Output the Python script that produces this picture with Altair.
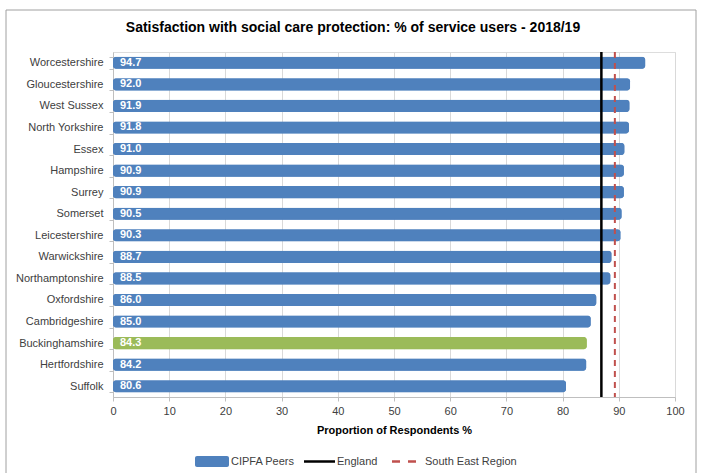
import altair as alt
import pandas as pd

regions = ["Worcestershire", "Gloucestershire", "West Sussex", "North Yorkshire", "Essex",
           "Hampshire", "Surrey", "Somerset", "Leicestershire", "Warwickshire",
           "Northamptonshire", "Oxfordshire", "Cambridgeshire", "Buckinghamshire",
           "Hertfordshire", "Suffolk"]
values = [94.7, 92.0, 91.9, 91.8, 91.0, 90.9, 90.9, 90.5, 90.3, 88.7, 88.5, 86.0, 85.0, 84.3, 84.2, 80.6]
groups = ["CIPFA Peers"] * 13 + ["Buckinghamshire"] + ["CIPFA Peers"] * 2
england_value = 86.9
south_east_value = 89.3
x_ticks = [0, 10, 20, 30, 40, 50, 60, 70, 80, 90, 100]
title_text = "Satisfaction with social care protection: % of service users - 2018/19"

FONT = "Liberation Sans"
BLUE = "#4F81BD"
GREEN = "#9BBB59"

df = pd.DataFrame({"region": regions, "value": values, "group": groups})
base = alt.Chart(df)

y_enc = alt.Y("region:N", sort=regions, title=None,
              scale=alt.Scale(paddingInner=0.44, paddingOuter=0.22),
              axis=alt.Axis(labelFont=FONT, labelFontSize=11, labelColor="#404040",
                            labelPadding=6, tickBand="extent", tickSize=4,
                            tickColor="#bfbfbf", domainColor="#bfbfbf", grid=False))

x_enc = alt.X("value:Q", scale=alt.Scale(domain=[0, 100], nice=False),
              title="Proportion of Respondents %",
              axis=alt.Axis(values=x_ticks, grid=True, gridColor="#d9d9d9",
                            labelFont=FONT, labelFontSize=11, labelColor="#404040",
                            labelPadding=4, labelFlush=False, tickSize=4,
                            tickColor="#bfbfbf", domainColor="#bfbfbf",
                            titleFont=FONT, titleFontSize=11,
                            titleFontWeight="bold", titleColor="#000000",
                            titlePadding=8))

color_scale = alt.Scale(domain=["CIPFA Peers", "Buckinghamshire"], range=[BLUE, GREEN])

bars = base.mark_bar(cornerRadius=3, strokeWidth=2).encode(
    x=x_enc, y=y_enc,
    color=alt.Color("group:N", scale=color_scale, legend=None),
    stroke=alt.Stroke("group:N", scale=color_scale, legend=None),
)

labels = base.mark_text(align="left", baseline="middle", dx=7, color="white",
                        fontWeight="bold", fontSize=11, font=FONT).encode(
    x=alt.datum(0), y=y_enc, text=alt.Text("value:Q", format=".1f"))

one = alt.Data(values=[{"a": 1}])

england = alt.Chart(one).mark_rule(color="black", strokeWidth=2.5).encode(
    x=alt.datum(england_value))
south_east = alt.Chart(one).mark_rule(color="#C0504D", strokeWidth=2,
                                      strokeDash=[6, 5]).encode(
    x=alt.datum(south_east_value))

# title
title = alt.Chart(one).mark_text(align="center", baseline="middle", font=FONT,
                                 fontSize=14, fontWeight="bold", color="#000000").encode(
    x=alt.value(240), y=alt.value(-24), text=alt.value(title_text))

# outer border
border = alt.Chart(one).mark_rect(fill=None, stroke="#a0a0a0", strokeWidth=1).encode(
    x=alt.value(-107), x2=alt.value(583), y=alt.value(-42), y2=alt.value(440))

# legend
leg_rect = alt.Chart(one).mark_rect(color=BLUE, cornerRadius=2).encode(
    x=alt.value(82), x2=alt.value(116), y=alt.value(404), y2=alt.value(415))
leg_t1 = alt.Chart(one).mark_text(align="left", baseline="middle", font=FONT,
                                  fontSize=11, color="#404040").encode(
    x=alt.value(118), y=alt.value(409.5), text=alt.value("CIPFA Peers"))
leg_line = alt.Chart(one).mark_rule(color="black", strokeWidth=2.5).encode(
    x=alt.value(191), x2=alt.value(222), y=alt.value(409.5))
leg_t2 = alt.Chart(one).mark_text(align="left", baseline="middle", font=FONT,
                                  fontSize=11, color="#404040").encode(
    x=alt.value(224), y=alt.value(409.5), text=alt.value("England"))
leg_dash = alt.Chart(one).mark_rule(color="#C0504D", strokeWidth=2.5,
                                    strokeDash=[8, 8]).encode(
    x=alt.value(279), x2=alt.value(305), y=alt.value(409.5))
leg_t3 = alt.Chart(one).mark_text(align="left", baseline="middle", font=FONT,
                                  fontSize=11, color="#404040").encode(
    x=alt.value(312), y=alt.value(409.5), text=alt.value("South East Region"))

chart = alt.layer(
    bars, labels, england, south_east, title, border,
    leg_rect, leg_t1, leg_line, leg_t2, leg_dash, leg_t3
).properties(
    width=562, height=345,
    autosize=alt.AutoSizeParams(type="none"),
    padding={"left": 113, "top": 52, "right": 31, "bottom": 76},
).configure_view(stroke=None).configure(background="white")

chart.save("out.html", embed_options={"renderer": "svg", "actions": False})
